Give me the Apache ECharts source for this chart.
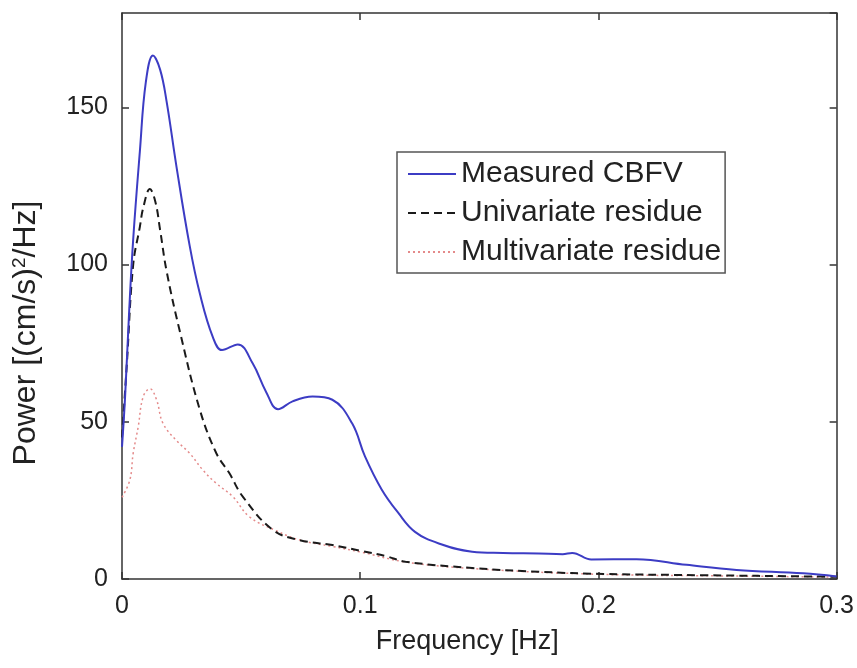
<!DOCTYPE html>
<html>
<head>
<meta charset="utf-8">
<script src="https://cdn.jsdelivr.net/npm/echarts@6/dist/echarts.min.js"></script>
<style>
html,body{margin:0;padding:0;background:#fff;}
#chart{width:857px;height:668px;}
</style>
</head>
<body>
<div id="chart"></div>
<script>
// Frequency [Hz] and power values
var freqMeasured = [0, 0.0013, 0.003, 0.0047, 0.0075, 0.010, 0.013, 0.016, 0.0187, 0.0229, 0.0284, 0.0326, 0.0381, 0.042, 0.0486, 0.0549, 0.0605, 0.0655, 0.0716, 0.080, 0.0883, 0.0966, 0.102, 0.109, 0.116, 0.123, 0.133, 0.147, 0.16, 0.175, 0.185, 0.189, 0.197, 0.216, 0.237, 0.258, 0.286, 0.3];
var measuredCBFV = [42, 58, 85, 108, 136, 158, 166.5, 162, 152, 131, 106, 91, 77, 72.8, 74.6, 68.5, 59.5, 54, 56.5, 58, 57, 49.5, 39, 28.5, 21, 15, 11.3, 8.7, 8.3, 8.1, 7.9, 8.3, 6.2, 6.3, 4.5, 2.9, 1.8, 0.8];

var freqUni = [0, 0.002, 0.0047, 0.0075, 0.0089, 0.0117, 0.014, 0.016, 0.0187, 0.0242, 0.0326, 0.0396, 0.0451, 0.0507, 0.0633, 0.0744, 0.0883, 0.1, 0.111, 0.119, 0.147, 0.175, 0.2025, 0.244, 0.29, 0.3];
var univariateResidue = [45, 68, 100, 112, 118, 124, 120, 111, 98, 79, 54, 40, 33.6, 26.2, 15.6, 12.4, 10.8, 9, 7.2, 5.5, 3.5, 2.3, 1.6, 1.2, 0.8, 0.7];

var freqMulti = [0, 0.0033, 0.0047, 0.0068, 0.0089, 0.0117, 0.0145, 0.0172, 0.0229, 0.0284, 0.034, 0.0396, 0.0465, 0.0535, 0.0646, 0.075, 0.088, 0.1, 0.12, 0.15, 0.2, 0.25, 0.3];
var multivariateResidue = [26, 31.5, 40, 48.4, 58, 60.5, 57, 49.5, 44, 40, 34.6, 30.4, 26.2, 19.8, 15.4, 12.3, 10.4, 8.6, 5.3, 3.2, 1.5, 1.0, 0.6];

var seriesNames = ['Measured CBFV', 'Univariate residue', 'Multivariate residue'];
var xTicks = [0, 0.1, 0.2, 0.3];
var yTicks = [0, 50, 100, 150];

function pairs(xs, ys) { return xs.map(function (x, i) { return [x, ys[i]]; }); }

var FONT = '"Liberation Sans", Arial, Helvetica, sans-serif';
var AX = '#333';

var chart = echarts.init(document.getElementById('chart'), null, { renderer: 'canvas' });

var tickInside = { show: true, inside: true, length: 7, lineStyle: { color: AX, width: 1.5 } };

chart.setOption({
  animation: false,
  backgroundColor: '#fff',
  grid: { left: 122, top: 13, right: 17, bottom: 89, containLabel: false },
  legend: {
    orient: 'vertical',
    left: 397,
    top: 152,
    data: seriesNames,
    backgroundColor: '#fff',
    borderColor: '#555',
    borderWidth: 1.5,
    borderRadius: 0,
    padding: [7, 4, 6, 10],
    itemWidth: 48,
    itemHeight: 14,
    itemGap: 9,
    itemStyle: { opacity: 0 },
    textStyle: { fontFamily: FONT, fontSize: 30, color: '#222', lineHeight: 28 }
  },
  xAxis: [{
    type: 'value', min: 0, max: 0.3, interval: 0.1,
    name: 'Frequency [Hz]', nameLocation: 'middle', nameGap: 49,
    nameTextStyle: { fontFamily: FONT, fontSize: 27, color: '#222', padding: [0, 24, 0, 0] },
    axisLine: { show: true, onZero: false, lineStyle: { color: AX, width: 1.5 } },
    axisTick: tickInside,
    axisLabel: { fontFamily: FONT, fontSize: 25, color: '#222', margin: 15,
      formatter: function (v) { var r = Math.round(v * 10) / 10; return xTicks.indexOf(r) >= 0 ? String(r) : ''; } },
    splitLine: { show: false }
  }, {
    type: 'value', min: 0, max: 0.3, interval: 0.1, position: 'top',
    axisLine: { show: true, onZero: false, lineStyle: { color: AX, width: 1.5 } },
    axisTick: tickInside, axisLabel: { show: false }, splitLine: { show: false }
  }],
  yAxis: [{
    type: 'value', min: 0, max: 180, interval: 50,
    name: 'Power [(cm/s){sup|2}/Hz]', nameLocation: 'middle', nameGap: 80,
    nameTextStyle: { fontFamily: FONT, fontSize: 32, color: '#222', padding: [0, 74, 0, 0],
      rich: { sup: { fontFamily: FONT, fontSize: 19, color: '#222', verticalAlign: 'top', lineHeight: 32 } } },
    axisLine: { show: true, onZero: false, lineStyle: { color: AX, width: 1.5 } },
    axisTick: tickInside,
    axisLabel: { fontFamily: FONT, fontSize: 25, color: '#222', margin: 14, showMaxLabel: false,
      formatter: function (v) { return yTicks.indexOf(v) >= 0 ? String(v) : ''; } },
    splitLine: { show: false }
  }, {
    type: 'value', min: 0, max: 180, interval: 50, position: 'right',
    axisLine: { show: true, onZero: false, lineStyle: { color: AX, width: 1.5 } },
    axisTick: tickInside, axisLabel: { show: false }, splitLine: { show: false }
  }],
  series: [{
    name: seriesNames[0], type: 'line', data: pairs(freqMeasured, measuredCBFV),
    symbol: 'none', smooth: 0.4,
    lineStyle: { color: '#3c3cc4', width: 2, type: 'solid' },
    itemStyle: { color: '#3c3cc4' }, z: 4
  }, {
    name: seriesNames[1], type: 'line', data: pairs(freqUni, univariateResidue),
    symbol: 'none', smooth: 0.4,
    lineStyle: { color: '#1a1a1a', width: 2, type: [8, 5] },
    itemStyle: { color: '#1a1a1a' }, z: 3
  }, {
    name: seriesNames[2], type: 'line', data: pairs(freqMulti, multivariateResidue),
    symbol: 'none', smooth: 0.4,
    lineStyle: { color: '#e48a8a', width: 1.5, type: [2, 3] },
    itemStyle: { color: '#e48a8a' }, z: 2
  }]
});
</script>
</body>
</html>
